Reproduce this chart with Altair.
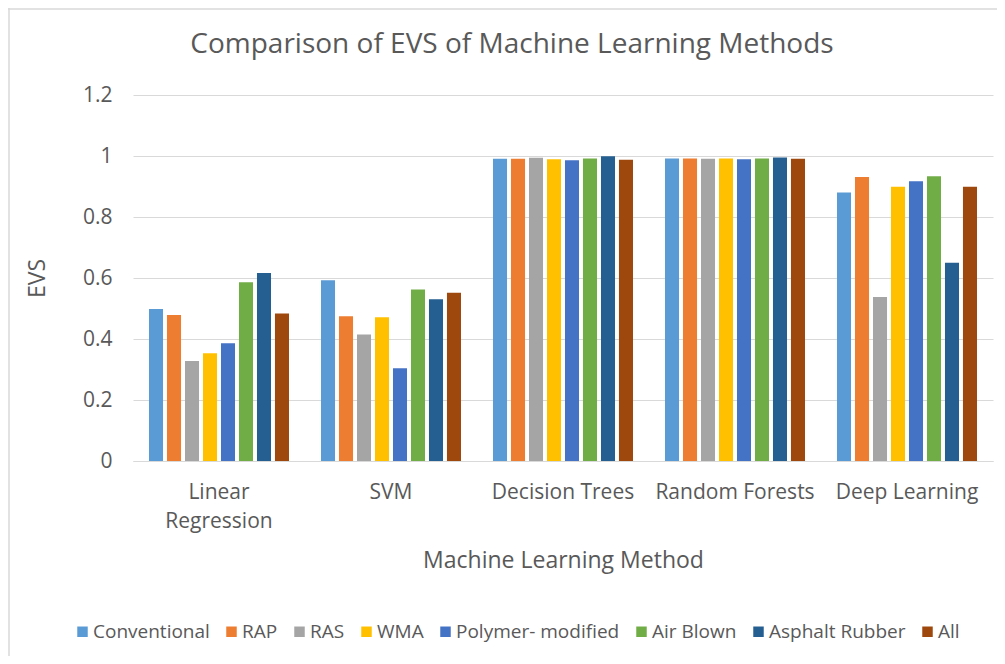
import altair as alt
import pandas as pd

title_text = "Comparison of EVS of Machine Learning Methods"
methods = ["Linear Regression", "SVM", "Decision Trees", "Random Forests", "Deep Learning"]
types = ["Conventional", "RAP", "RAS", "WMA", "Polymer- modified", "Air Blown", "Asphalt Rubber", "All"]
colors = ["#5B9BD5", "#ED7D31", "#A5A5A5", "#FFC000", "#4472C4", "#70AD47", "#255E91", "#9E480E"]

conventional = [0.498, 0.593, 0.991, 0.992, 0.880]
rap = [0.479, 0.475, 0.991, 0.992, 0.931]
ras = [0.328, 0.415, 0.994, 0.991, 0.538]
wma = [0.353, 0.471, 0.989, 0.992, 0.899]
polymer = [0.386, 0.304, 0.986, 0.989, 0.917]
air_blown = [0.586, 0.562, 0.992, 0.992, 0.934]
asphalt_rubber = [0.616, 0.530, 0.999, 0.995, 0.650]
all_types = [0.484, 0.552, 0.988, 0.991, 0.899]

series = [conventional, rap, ras, wma, polymer, air_blown, asphalt_rubber, all_types]
rows = []
for t, vals in zip(types, series):
    for m, v in zip(methods, vals):
        rows.append({"Method": m, "Type": t, "EVS": v})
df = pd.DataFrame(rows)

TXT = "#595959"
FONT = "Open Sans"
W, H = 860, 366

bars = alt.Chart(df).mark_bar().encode(
    x=alt.X("Method:N", sort=methods,
            scale=alt.Scale(paddingInner=0.186, paddingOuter=0.093),
            axis=alt.Axis(title="Machine Learning Method", labelAngle=0, ticks=False,
                          domainColor="#D9D9D9", domainWidth=1,
                          labelExpr="datum.label == 'Linear Regression' ? ['Linear', 'Regression'] : datum.label",
                          labelPadding=20, labelLineHeight=29, labelFontSize=21,
                          titleFontSize=23, titleY=99, titleBaseline="middle")),
    xOffset=alt.XOffset("Type:N", sort=types,
                        scale=alt.Scale(paddingInner=0.22, paddingOuter=0)),
    y=alt.Y("EVS:Q", scale=alt.Scale(domain=[0, 1.2]),
            axis=alt.Axis(title="EVS", values=[0, 0.2, 0.4, 0.6, 0.8, 1.0, 1.2], format="~g",
                          ticks=False, domain=False, labelPadding=21, labelFontSize=21,
                          titleFontSize=23, titleX=-96, titleY=H / 2, titleBaseline="middle",
                          gridColor="#D9D9D9", gridWidth=1)),
    color=alt.Color("Type:N", sort=types, scale=alt.Scale(domain=types, range=colors),
                    legend=alt.Legend(title=None, orient="none", direction="horizontal",
                                      columns=8, legendX=-60, legendY=527,
                                      symbolType="square", symbolSize=110, symbolStrokeWidth=0,
                                      labelFontSize=19, labelOffset=1, columnPadding=12,
                                      labelLimit=0)),
)

one = pd.DataFrame({"k": [0]})
left_line = alt.Chart(one).mark_rule(color="#D9D9D9", strokeWidth=1.5).encode(
    x=alt.value(-124), y=alt.value(-87), y2=alt.value(H + 200))
top_line = alt.Chart(one).mark_rule(color="#D9D9D9", strokeWidth=1.5).encode(
    x=alt.value(-125), x2=alt.value(W + 10), y=alt.value(-86))
title = alt.Chart(pd.DataFrame({"t": [title_text]})).mark_text(
    fontSize=28, font=FONT, color=TXT, align="center", baseline="middle").encode(
    x=alt.value(379), y=alt.value(-50), text="t:N")

chart = alt.layer(bars, left_line, top_line, title).properties(
    width=W, height=H,
    autosize=alt.AutoSizeParams(type="none"),
    padding={"left": 125, "top": 87, "right": 4, "bottom": 195},
).configure(font=FONT).configure_view(stroke=None).configure_axis(
    labelColor=TXT, titleColor=TXT, labelFont=FONT, titleFont=FONT, titleFontWeight="normal"
).configure_legend(labelColor=TXT, labelFont=FONT)

chart.save("out.html", embed_options={"renderer": "svg", "actions": False})
